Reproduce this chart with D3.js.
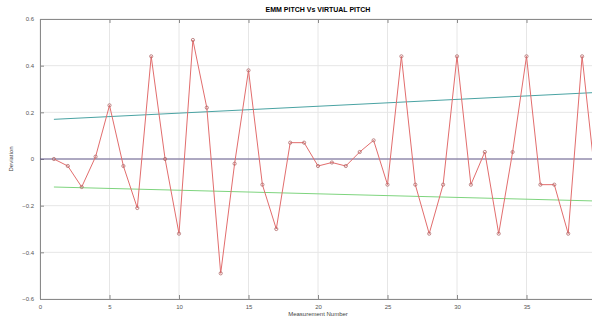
<!DOCTYPE html>
<html>
<head>
<meta charset="utf-8">
<script src="https://cdn.jsdelivr.net/npm/d3@7"></script>
<style>
  body { margin: 0; background: #fff; }
  svg { display: block; font-family: "Liberation Sans", Arial, sans-serif; }
</style>
</head>
<body>
<div id="chart"></div>
<script>
const measurement = d3.range(1, 41);
const deviation = [
  0.00, -0.03, -0.12, 0.01, 0.23, -0.03, -0.21, 0.44, 0.00, -0.32,
  0.51, 0.22, -0.49, -0.02, 0.38, -0.11, -0.30, 0.07, 0.07, -0.03,
  -0.015, -0.03, 0.03, 0.08, -0.11, 0.44, -0.11, -0.32, -0.11, 0.44,
  -0.11, 0.03, -0.32, 0.03, 0.44, -0.11, -0.11, -0.32, 0.44, -0.11
];
// trend / limit lines (start and end values)
const upperLimit = [[1, 0.17], [40, 0.285]];
const lowerLimit = [[1, -0.12], [40, -0.18]];
const zeroLine = [[0, 0], [40, 0]];
const xTicks = [0, 5, 10, 15, 20, 25, 30, 35, 40];
const yTicks = [-0.6, -0.4, -0.2, 0, 0.2, 0.4, 0.6];

const W = 592, H = 323;
const margin = { left: 40, top: 19, right: -4, bottom: 24 };
const width = W - margin.left - margin.right;
const height = H - margin.top - margin.bottom;

const svg = d3.select("#chart").append("svg")
  .attr("width", W).attr("height", H);
const g = svg.append("g")
  .attr("transform", "translate(" + margin.left + "," + margin.top + ")");

const x = d3.scaleLinear().domain([0, 40]).range([0, width]);
const y = d3.scaleLinear().domain([-0.6, 0.6]).range([height, 0]);

// grid
g.append("g").selectAll("line").data(xTicks).enter().append("line")
  .attr("x1", d => x(d)).attr("x2", d => x(d))
  .attr("y1", 0).attr("y2", height)
  .attr("stroke", "#e6e6e6").attr("stroke-width", 1);
g.append("g").selectAll("line").data(yTicks).enter().append("line")
  .attr("x1", 0).attr("x2", width)
  .attr("y1", d => y(d)).attr("y2", d => y(d))
  .attr("stroke", "#e6e6e6").attr("stroke-width", 1);

// axes (the 40 label falls outside the window, as in the original)
const tickFmt = d => d === 0 ? "0" : d3.format(".1f")(d);
const xAxis = g.append("g")
  .attr("transform", "translate(0," + height + ")")
  .call(d3.axisBottom(x).tickValues(xTicks).tickSize(-4).tickPadding(6)
    .tickFormat(d => d < 40 ? d : ""));
const xTop = g.append("g")
  .call(d3.axisTop(x).tickValues(xTicks).tickSize(-4).tickFormat(""));
const yAxis = g.append("g")
  .call(d3.axisLeft(y).tickValues(yTicks).tickSize(-4).tickPadding(6).tickFormat(tickFmt));
[xAxis, xTop, yAxis].forEach(a => {
  a.selectAll("path").attr("stroke", "#8a8a8a");
  a.selectAll("line").attr("stroke", "#8a8a8a");
  a.selectAll("text").attr("fill", "#555").style("font-size", "6px");
});

const line = d3.line().x(d => x(d[0])).y(d => y(d[1]));

g.append("path").datum(zeroLine).attr("d", line)
  .attr("fill", "none").attr("stroke", "#5a4f86").attr("stroke-width", 0.9);
g.append("path").datum(upperLimit).attr("d", line)
  .attr("fill", "none").attr("stroke", "#4aa3a3").attr("stroke-width", 1);
g.append("path").datum(lowerLimit).attr("d", line)
  .attr("fill", "none").attr("stroke", "#7ed47e").attr("stroke-width", 1);

const pts = measurement.map((m, i) => [m, deviation[i]]);
g.append("path").datum(pts).attr("d", line)
  .attr("fill", "none").attr("stroke", "#e26d6d").attr("stroke-width", 1);
g.append("g").selectAll("circle").data(pts).enter().append("circle")
  .attr("cx", d => x(d[0])).attr("cy", d => y(d[1])).attr("r", 1.6)
  .attr("fill", "none").attr("stroke", "#b06a6a").attr("stroke-width", 0.8);

// labels
svg.append("text").attr("x", margin.left + width / 2).attr("y", 12)
  .attr("text-anchor", "middle").style("font-size", "7px").style("font-weight", "bold")
  .text("EMM PITCH Vs VIRTUAL PITCH");
svg.append("text").attr("x", margin.left + width / 2).attr("y", 316)
  .attr("text-anchor", "middle").style("font-size", "6px").attr("fill", "#444")
  .text("Measurement Number");
svg.append("text")
  .attr("transform", "translate(13," + (margin.top + height / 2) + ") rotate(-90)")
  .attr("text-anchor", "middle").style("font-size", "6px").attr("fill", "#444")
  .text("Deviation");
</script>
</body>
</html>
